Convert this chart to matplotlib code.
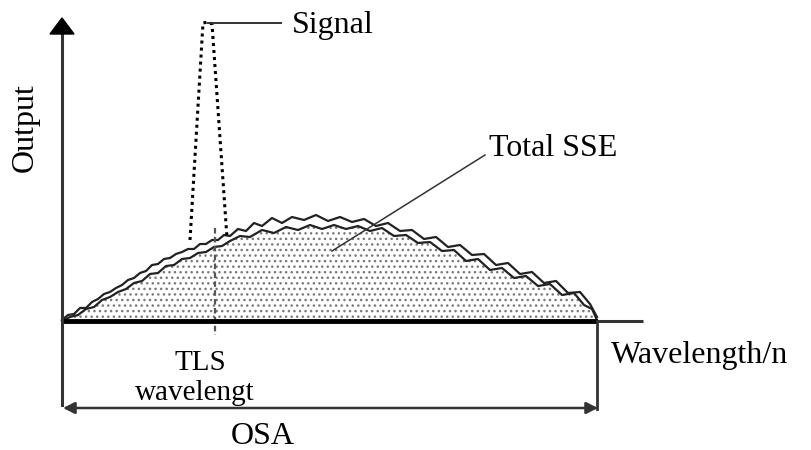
import matplotlib
matplotlib.use("Agg")
import matplotlib.pyplot as plt
from matplotlib.patches import FancyArrowPatch, Polygon

# ---- data (wavelength position, output level) read from the schematic ----
upper_x = [62, 68, 74, 80, 86, 92, 98, 104, 110, 116, 122, 128, 134, 140, 146, 152, 158, 164, 170,
           176, 182, 188, 194, 200, 206, 212, 218, 224, 230, 238, 246, 254, 262, 272, 282, 292, 304,
           316, 328, 340, 352, 364, 376, 388, 400, 412, 424, 436, 448, 460, 472, 484, 496, 508, 520,
           532, 544, 556, 568, 580, 590, 597]
upper_y = [1, 6, 7, 13, 13, 19, 22, 27, 29, 33, 36, 41, 43, 48, 50, 56, 57, 62, 63,
           67, 69, 72, 72, 77, 77, 81, 81, 86, 85, 92, 90, 98, 95, 103, 98, 104, 101,
           106, 100, 104, 99, 102, 95, 98, 90, 91, 82, 84, 74, 76, 66, 67, 56, 58, 47,
           49, 38, 40, 28, 29, 17, 4]

lower_x = [62, 70, 78, 86, 94, 102, 110, 118, 126, 134, 142, 150, 158, 166, 174, 182, 190, 198,
           206, 214, 222, 230, 240, 250, 262, 274, 286, 298, 310, 322, 334, 346, 358, 370, 382,
           394, 406, 418, 430, 442, 454, 466, 478, 490, 502, 514, 526, 538, 550, 562, 574, 584,
           592, 597]
lower_y = [0, 4, 6, 12, 14, 21, 24, 29, 32, 38, 40, 47, 48, 55, 56, 62, 63, 68,
           69, 74, 75, 80, 85, 84, 91, 88, 94, 91, 96, 92, 96, 92, 95, 90, 93,
           85, 86, 78, 79, 70, 71, 60, 62, 51, 53, 43, 45, 35, 37, 26, 28, 16,
           12, 1]

signal_x = [190, 203, 208, 212, 227]
signal_y = [81, 298, 299, 297, 83]

tls_x = 215          # TLS wavelength marker
osa_range = [62, 597]  # OSA span
axis_end_x = 643
y_axis_top = 303

plt.rcParams['font.family'] = ['Liberation Serif', 'DejaVu Serif']

fig = plt.figure(figsize=(8.11, 4.5), dpi=100)
ax = fig.add_axes([0, 0, 1, 1])
ax.set_xlim(0, 811)
ax.set_ylim(-129, 321)
ax.axis('off')

# hatched SSE area
ax.fill_between(lower_x, 0, lower_y, facecolor='white', edgecolor='#7a7a7a',
                hatch='...', linewidth=0, zorder=1)

# wavy SSE lines
ax.plot(upper_x, upper_y, color='#222222', lw=1.6, zorder=3, solid_joinstyle='round')
ax.plot(lower_x, lower_y, color='#222222', lw=1.6, zorder=3, solid_joinstyle='round')

# signal peak (dotted)
ax.plot(signal_x, signal_y, color='black', lw=2.2, linestyle=(0, (1, 1.3)), zorder=4)

# TLS wavelength marker (dashed)
ax.plot([tls_x, tls_x], [93, -14], color='#555555', lw=1.6, linestyle=(0, (2.5, 1.5)), zorder=4)

# axes
ax.plot([osa_range[0], osa_range[1]], [0, 0], color='black', lw=3.5, zorder=5, solid_capstyle='butt')
ax.plot([osa_range[1], axis_end_x], [0, 0], color='#333333', lw=2.2, zorder=5, solid_capstyle='butt')
ax.plot([osa_range[0], osa_range[0]], [-84, y_axis_top - 12], color='#333333', lw=2.2, zorder=5)
ax.add_patch(Polygon([[osa_range[0] - 12, y_axis_top - 16], [osa_range[0] + 12, y_axis_top - 16],
                      [osa_range[0], y_axis_top]], closed=True, color='black', zorder=6))
ax.plot([osa_range[1], osa_range[1]], [0, -88], color='#333333', lw=2.0, zorder=5)

# OSA span arrow
arr = FancyArrowPatch((osa_range[0] + 1, -87), (osa_range[1] + 1, -87),
                      arrowstyle='<|-|>,head_length=7,head_width=3.5', color='#333333',
                      lw=1.8, shrinkA=0, shrinkB=0, zorder=5)
ax.add_patch(arr)

# leader lines
ax.plot([208, 281], [298, 298], color='#333333', lw=1.4, zorder=5)
ax.plot([485, 332], [166, 70], color='#333333', lw=1.1, zorder=5)

fs = 23
ax.text(292, 296, 'Signal', fontsize=fs, ha='left', va='center', zorder=7)
ax.text(489, 172, 'Total SSE', fontsize=fs, ha='left', va='center', zorder=7)
ax.text(611, -34, 'Wavelength/n', fontsize=fs, ha='left', va='center', zorder=7)
ax.text(200, -42, 'TLS', fontsize=21, ha='center', va='center', zorder=7)
ax.text(195, -72, 'wavelengt', fontsize=21, ha='center', va='center', zorder=7)
ax.text(263, -116, 'OSA', fontsize=fs, ha='center', va='center', zorder=7)
ax.text(25, 193, 'Output', fontsize=fs, ha='center', va='center', rotation=90, zorder=7)

fig.savefig('out.png', dpi=100)
